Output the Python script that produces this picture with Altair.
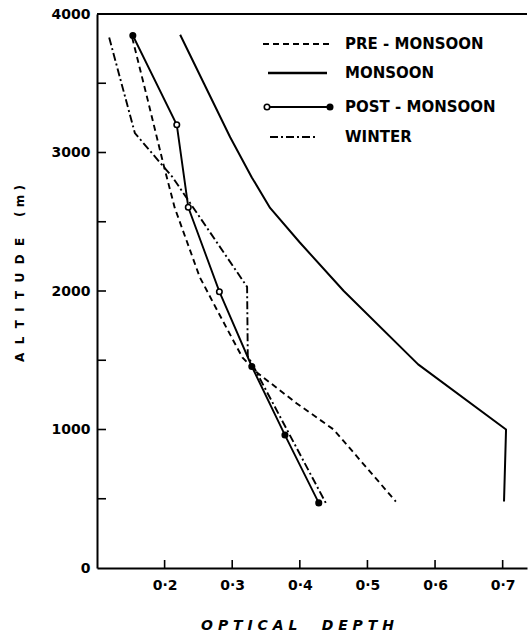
import altair as alt
import pandas as pd

# ---- data ----
pre_x = [0.152, 0.175, 0.198, 0.215, 0.252, 0.280, 0.315, 0.337, 0.395, 0.450, 0.542]
pre_y = [3830, 3380, 2920, 2600, 2100, 1840, 1520, 1410, 1190, 1000, 480]

mon_x = [0.223, 0.258, 0.297, 0.329, 0.356, 0.400, 0.465, 0.575, 0.705, 0.702]
mon_y = [3850, 3500, 3110, 2820, 2600, 2350, 2000, 1470, 1000, 480]

post_x = [0.153, 0.218, 0.235, 0.281, 0.329, 0.378, 0.428]
post_y = [3845, 3200, 2605, 1995, 1455, 960, 470]

win_x = [0.118, 0.156, 0.212, 0.322, 0.323, 0.333, 0.440]
win_y = [3830, 3140, 2820, 2030, 1530, 1440, 455]

x_tick_vals = [0.2, 0.3, 0.4, 0.5, 0.6, 0.7]
y_label_vals = [0, 1000, 2000, 3000, 4000]
y_minor_vals = [500, 1000, 1500, 2000, 2500, 3000, 3500]

series_names = ["PRE - MONSOON", "MONSOON", "POST - MONSOON", "WINTER"]

W, H = 430, 554
FONT = "DejaVu Sans"
NB = "\u00a0"


def frame(xs, ys):
    return pd.DataFrame({"x": xs, "y": ys, "i": list(range(len(xs)))})


xscale = alt.Scale(domain=[0.1, 0.736], nice=False, zero=False)
yscale = alt.Scale(domain=[0, 4000], nice=False, zero=False)

x_title = (NB).join(list("OPTICAL")) + NB * 5 + (NB).join(list("DEPTH"))
y_title = (NB * 2).join(list("ALTITUDE")) + NB * 5 + "(" + NB + "m" + NB + ")"

xaxis = alt.Axis(
    values=x_tick_vals,
    labelExpr="replace(format(datum.value, '.1f'), '.', '·')",
    ticks=False, tickSize=0, grid=False,
    labelFont=FONT, labelFontWeight="bold", labelFontSize=14, labelColor="black",
    labelBaseline="middle", labelPadding=17,
    domainColor="black", domainWidth=2,
    title=x_title, titleFont=FONT, titleFontStyle="italic", titleFontWeight="bold",
    titleFontSize=14, titleColor="black", titleX=200, titleY=57,
    titleBaseline="middle", titleAlign="center",
)
yaxis = alt.Axis(
    values=y_label_vals, format="d",
    ticks=False, tickSize=0, grid=False,
    labelFont=FONT, labelFontWeight="bold", labelFontSize=14, labelColor="black",
    labelPadding=7,
    domainColor="black", domainWidth=2,
    title=y_title, titleFont=FONT, titleFontWeight="bold", titleFontSize=12,
    titleColor="black", titleAngle=270, titleX=-78, titleY=259,
    titleBaseline="middle", titleAlign="center",
)


def X(field="x"):
    return alt.X(f"{field}:Q", scale=xscale, axis=xaxis)


def Y(field="y"):
    return alt.Y(f"{field}:Q", scale=yscale, axis=yaxis)


LW = 1.9

pre = alt.Chart(frame(pre_x, pre_y)).mark_line(
    color="black", strokeWidth=LW, strokeDash=[6, 4]
).encode(x=X(), y=Y(), order="i:Q")

mon = alt.Chart(frame(mon_x, mon_y)).mark_line(
    color="black", strokeWidth=LW + 0.1, strokeJoin="round"
).encode(x=X(), y=Y(), order="i:Q")

post_df = frame(post_x, post_y)
post = alt.Chart(post_df).mark_line(
    color="black", strokeWidth=LW
).encode(x=X(), y=Y(), order="i:Q")

post_pts = alt.Chart(post_df).mark_point(
    shape="circle", size=30, stroke="black", strokeWidth=1.6, opacity=1
).encode(
    x=X(), y=Y(),
    fill=alt.condition("datum.y < 1500 || datum.y > 3500", alt.value("black"), alt.value("white")),
)

win = alt.Chart(frame(win_x, win_y)).mark_line(
    color="black", strokeWidth=LW, strokeDash=[8, 3, 2, 3]
).encode(x=X(), y=Y(), order="i:Q")

# inward ticks
xt = alt.Chart(pd.DataFrame({"x": x_tick_vals})).mark_rule(
    color="black", strokeWidth=1.6
).encode(x=X(), y=alt.value(H), y2=alt.value(H - 8))

yt = alt.Chart(pd.DataFrame({"y": y_minor_vals})).mark_rule(
    color="black", strokeWidth=1.6
).encode(y=Y(), x=alt.value(0), x2=alt.value(9))

one = pd.DataFrame({"k": [0]})
top = alt.Chart(one).mark_rule(color="black", strokeWidth=2).encode(
    x=alt.value(0), x2=alt.value(W), y=alt.value(0)
)

# legend (decoration)
leg_rows = [30, 59, 93, 123]
text_x = 248
leg = []
leg.append(alt.Chart(one).mark_rule(color="black", strokeWidth=LW, strokeDash=[6, 4]).encode(
    x=alt.value(166), x2=alt.value(235), y=alt.value(leg_rows[0])))
leg.append(alt.Chart(one).mark_rule(color="black", strokeWidth=LW + 0.4).encode(
    x=alt.value(171), x2=alt.value(230), y=alt.value(leg_rows[1])))
leg.append(alt.Chart(one).mark_rule(color="black", strokeWidth=LW).encode(
    x=alt.value(170), x2=alt.value(233), y=alt.value(leg_rows[2])))
leg.append(alt.Chart(one).mark_point(shape="circle", size=30, stroke="black", strokeWidth=1.6,
                                     fill="white", opacity=1).encode(
    x=alt.value(170), y=alt.value(leg_rows[2])))
leg.append(alt.Chart(one).mark_point(shape="circle", size=30, stroke="black", strokeWidth=1.6,
                                     fill="black", opacity=1).encode(
    x=alt.value(233), y=alt.value(leg_rows[2])))
leg.append(alt.Chart(one).mark_rule(color="black", strokeWidth=LW, strokeDash=[8, 3, 2, 3]).encode(
    x=alt.value(173), x2=alt.value(221), y=alt.value(leg_rows[3])))
for name, yy in zip(series_names, leg_rows):
    leg.append(alt.Chart(one).mark_text(
        text=name, font=FONT, fontWeight="bold", fontSize=15, color="black",
        align="left", baseline="middle"
    ).encode(x=alt.value(text_x), y=alt.value(yy)))

chart = alt.layer(
    pre, mon, post, win, post_pts, xt, yt, top, *leg
).properties(
    width=W, height=H,
    autosize=alt.AutoSizeParams(type="none"),
    padding={"left": 97, "top": 14, "right": 1, "bottom": 68},
    background="white",
).configure_view(stroke=None)

chart.save("out.html", embed_options={"renderer": "svg", "actions": False})
